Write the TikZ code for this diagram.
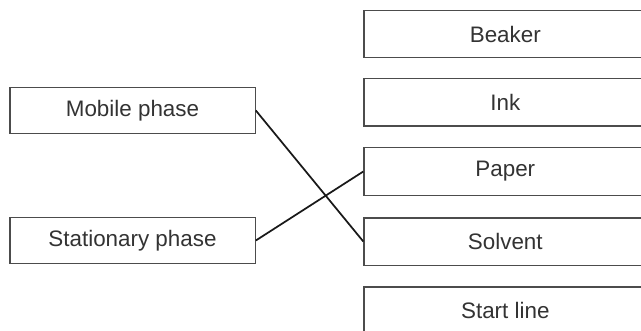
\documentclass[tikz,border=0pt]{standalone}
\usepackage{fontspec}
\setmainfont{Liberation Sans}
\usetikzlibrary{positioning}

\begin{document}
\begin{tikzpicture}[
                x=0.75pt, y=-0.75pt,
                box/.style={draw=black!70, line width=1pt, fill=white, inner sep=0pt,
                    font=\fontsize{16.8}{20}\selectfont, text=black!80},
                lbox/.style={box, minimum width=184pt, minimum height=34.5pt},
                rbox/.style={box, minimum width=212pt, minimum height=35.5pt},
                con/.style={line width=1.3pt, black!90}
            ]

% frame
                \useasboundingbox (0,0) rectangle (641,331);
                \clip (0,0) rectangle (641,331);

% left boxes
                \node[lbox] (mob) at (132.5,110.5) {Mobile phase};
                \node[lbox] (sta) at (132.5,240.5) {Stationary phase};

% right boxes (cut off at the right edge)
                \node[rbox] (bea) at (505.3,34) {Beaker};
                \node[rbox] (ink) at (505.3,102.5) {Ink};
                \node[rbox] (pap) at (505.3,171.5) {Paper};
                \node[rbox] (sol) at (505.3,241.5) {Solvent};
                \node[rbox] (stl) at (505.3,310.5) {Start line};

% edges
                \draw[con] (mob.east)--(sol.west);
                \draw[con] (sta.east)--(pap.west);

            \end{tikzpicture}
\end{document}
